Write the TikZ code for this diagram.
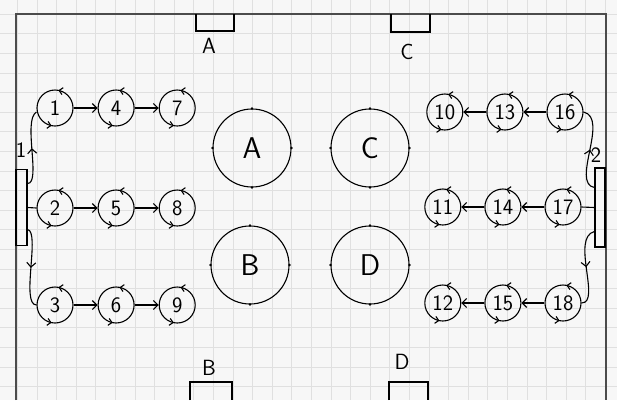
\documentclass[tikz,border=0pt]{standalone}
\usepackage{tikz}
\usetikzlibrary{positioning, arrows.meta, decorations.markings}

\begin{document}
\begin{tikzpicture}[
    x=1pt, y=-1pt,
    line width=1.1pt,
    node distance=24pt,
    station/.style={circle, draw, minimum size=36pt, inner sep=0pt, font=\sffamily\fontsize{22}{22}\selectfont,
        postaction={decorate},
        decoration={markings,
            mark=at position 0.22 with {\arrow{Straight Barb[length=3.5pt]}},
            mark=at position 0.72 with {\arrow{Straight Barb[length=3.5pt]}}}},
    zone/.style={circle, draw, minimum size=78pt, inner sep=0pt, font=\sffamily\fontsize{30}{30}\selectfont},
    goalbox/.style={rectangle, draw, inner sep=0pt, minimum width=11pt, minimum height=76pt},
    tag/.style={font=\sffamily\fontsize{22}{22}\selectfont},
    gridline/.style={gray!24, line width=0.4pt},
    pass/.style={-{Straight Barb[length=4.5pt]}},
    midarrow/.style={postaction={decorate},
        decoration={markings, mark=at position 0.5 with {\arrow{Straight Barb[length=4.5pt]}}}}
]
    % paper and field
    \useasboundingbox (0,0) rectangle (617,400);
    \fill[gray!6] (0,0) rectangle (617,400);
    \foreach \g in {0,...,31} {
        \draw[gridline] (17.2+19.6*\g-19.6,0) -- (17.2+19.6*\g-19.6,400);
        \draw[gridline] (0,14+19.6*\g) -- (617,14+19.6*\g);
    }
    \draw[gray!60!black, line width=1.3pt] (16,400) -- (16,14) -- (606,14) -- (606,400);

    % goals on the long sides
    \draw (196,14) -- (196,31) -- (234,31) -- (234,14);
    \draw (391,14) -- (391,32) -- (430,32) -- (430,14);
    \draw (190,400) -- (190,382) -- (232,382) -- (232,400);
    \draw (389,400) -- (389,382) -- (428,382) -- (428,400);
    \node[tag] at (209,46) {A};
    \node[tag] at (407,52) {C};
    \node[tag] at (209,368) {B};
    \node[tag] at (402,362) {D};

    % goals on the short sides
    \node[goalbox] (goalone) at (21.5,207.5) {};
    \node[goalbox, minimum width=10pt, minimum height=79pt] (goaltwo) at (600,207.5) {};
    \node[tag] at (21,150) {1};
    \node[tag] at (596,155) {2};

    % left stations
    \node[station] (st1) at (55,108) {1};
    \node[station, right=of st1] (st4) {4};
    \node[station, right=of st4] (st7) {7};
    \node[station] (st2) at (55,208) {2};
    \node[station, right=of st2] (st5) {5};
    \node[station, right=of st5] (st8) {8};
    \node[station] (st3) at (55,305) {3};
    \node[station, right=of st3] (st6) {6};
    \node[station, right=of st6] (st9) {9};

    % right stations
    \node[station] (st16) at (565,112) {16};
    \node[station, left=23pt of st16] (st13) {13};
    \node[station, left=23pt of st13] (st10) {10};
    \node[station] (st17) at (563,207) {17};
    \node[station, left=23pt of st17] (st14) {14};
    \node[station, left=23pt of st14] (st11) {11};
    \node[station] (st18) at (563,303) {18};
    \node[station, left=23pt of st18] (st15) {15};
    \node[station, left=23pt of st15] (st12) {12};

    % middle zones
    \node[zone] (zoneA) at (252,148) {A};
    \node[zone] (zoneC) at (370,148) {C};
    \node[zone] (zoneB) at (250,265) {B};
    \node[zone] (zoneD) at (370,265) {D};
    \foreach \z in {zoneA, zoneB, zoneC, zoneD}
        \foreach \a in {north, east, south, west}
            \fill (\z.\a) circle (1.4pt);

    % rotations
    \draw[pass] (st1) -- (st4);
    \draw[pass] (st4) -- (st7);
    \draw[pass] (st2) -- (st5);
    \draw[pass] (st5) -- (st8);
    \draw[pass] (st3) -- (st6);
    \draw[pass] (st6) -- (st9);
    \draw[pass] (st16) -- (st13);
    \draw[pass] (st13) -- (st10);
    \draw[pass] (st17) -- (st14);
    \draw[pass] (st14) -- (st11);
    \draw[pass] (st18) -- (st15);
    \draw[pass] (st15) -- (st12);

    % from the goals to the first stations
    \draw[midarrow] ([yshift=24pt]goalone.east) .. controls +(14,0) and +(-14,8) .. ([yshift=-4pt]st1.west);
    \draw (goalone.east) -- (st2.west);
    \draw[midarrow] ([yshift=-22pt]goalone.east) .. controls +(13,2) and +(-16,0) .. (st3.west);
    \draw[midarrow] ([yshift=20pt]goaltwo.west) .. controls +(-24,-4) and +(26,6) .. (st16.east);
    \draw (goaltwo.west) -- (st17.east);
    \draw[midarrow] ([yshift=-24pt]goaltwo.west) .. controls +(-24,6) and +(20,0) .. (st18.east);
\end{tikzpicture}
\end{document}
